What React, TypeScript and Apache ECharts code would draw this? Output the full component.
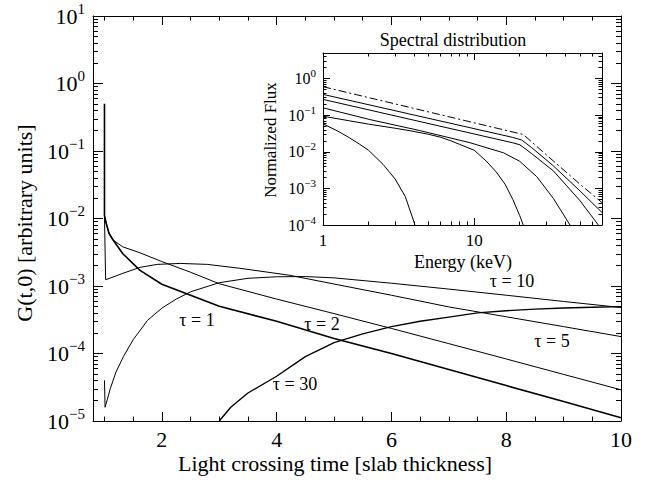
import React, { useEffect, useRef } from 'react';
import * as echarts from 'echarts';

const FONT = "'Liberation Serif', 'Times New Roman', 'DejaVu Serif', serif";

// ---------------- Main panel: G(t,0) vs light crossing time ----------------
const tau1Time = [1.0, 1.0, 1.03, 1.08, 1.15, 1.32, 1.62, 2.0, 2.5, 3.0, 4.0, 5.0, 6.0, 7.0, 8.0, 9.0, 10.0];
const tau1G = [0.5, 0.011, 0.0085, 0.006, 0.0048, 0.003, 0.0017, 0.00106, 7.3e-4, 5.0e-4, 3.0e-4, 1.67e-4, 1.0e-4, 5.8e-5, 3.35e-5, 1.94e-5, 1.12e-5];

const tau2Time = [1.0, 1.0, 1.03, 1.08, 1.15, 1.32, 1.62, 2.0, 2.5, 3.0, 4.0, 5.0, 6.0, 7.0, 8.0, 9.0, 10.0];
const tau2G = [0.135, 0.011, 0.0085, 0.006, 0.0048, 0.0038, 0.0031, 0.0023, 0.0016, 0.00108, 6.4e-4, 3.9e-4, 2.35e-4, 1.4e-4, 8.3e-5, 4.9e-5, 2.9e-5];

const tau5Time = [1.0, 1.02, 1.1, 1.32, 1.62, 1.92, 2.32, 2.79, 3.36, 4.23, 5.0, 6.0, 7.0, 8.0, 9.0, 10.0];
const tau5G = [0.0105, 0.00124, 0.00131, 0.00154, 0.00189, 0.00209, 0.00216, 0.00209, 0.00183, 0.00144, 0.00107, 7.3e-4, 4.9e-4, 3.5e-4, 2.5e-4, 1.78e-4];

const tau10Time = [1.0, 1.01, 1.05, 1.1, 1.2, 1.33, 1.5, 1.75, 2.0, 2.25, 2.5, 3.0, 3.5, 4.0, 4.5, 5.0, 6.0, 7.0, 8.0, 9.0, 10.0];
const tau10G = [4e-5, 1.6e-5, 2.1e-5, 3.0e-5, 5.3e-5, 9e-5, 1.6e-4, 3.1e-4, 4.7e-4, 6.4e-4, 8.2e-4, 1.12e-3, 1.3e-3, 1.37e-3, 1.38e-3, 1.32e-3, 1.1e-3, 9e-4, 7.3e-4, 5.9e-4, 4.8e-4];

const tau30Time = [3.0, 3.2, 3.5, 4.0, 4.5, 5.0, 5.5, 6.0, 6.5, 7.0, 7.5, 8.0, 8.5, 9.0, 9.5, 10.0];
const tau30G = [1.0e-5, 1.6e-5, 2.6e-5, 4.6e-5, 9e-5, 1.45e-4, 1.95e-4, 2.5e-4, 3.0e-4, 3.46e-4, 4.0e-4, 4.3e-4, 4.55e-4, 4.72e-4, 4.85e-4, 4.95e-4];

const tauLabels = ['\u03c4 = 1', '\u03c4 = 2', '\u03c4 = 5', '\u03c4 = 10', '\u03c4 = 30'];

// ---------------- Inset: spectral distribution ----------------
const incidentE = [1, 21.1, 33.4, 50.1, 70];
const incidentF = [0.6, 0.0297, 0.0056, 0.0013, 0.00041];

const spec1E = [1, 18, 20.6, 24, 33.4, 50.1, 70];
const spec1F = [0.37, 0.0247, 0.021, 0.013, 0.0041, 8.5e-4, 2.2e-4];

const spec2E = [1, 18, 20.1, 24, 33.4, 50.1, 66.2, 70];
const spec2F = [0.27, 0.0176, 0.0155, 0.0089, 0.003, 4.6e-4, 1e-4, 7.4e-5];

const spec3E = [1, 2.04, 4.37, 9.37, 15.6, 20, 25.9, 33.4, 43, 46];
const spec3F = [0.159, 0.076, 0.038, 0.0177, 0.0094, 0.0055, 0.0021, 5.3e-4, 1e-4, 5.5e-5];

const spec4E = [1, 1.5, 2, 3, 4, 5, 6, 7, 8, 10, 12, 14, 16, 18, 20, 21.1, 22];
const spec4F = [0.094, 0.07, 0.057, 0.044, 0.036, 0.03, 0.025, 0.02, 0.016, 0.011, 0.0056, 0.0028, 0.0013, 5e-4, 1.8e-4, 1e-4, 6.5e-5];

const spec5E = [1, 1.25, 1.5, 1.75, 2, 2.5, 3, 3.5, 4, 4.3];
const spec5F = [0.058, 0.037, 0.024, 0.016, 0.011, 0.0045, 0.0018, 6e-4, 1.2e-4, 4e-5];

// ---------------- Tick values ----------------
const mainXLabels = [2, 4, 6, 8, 10];
const mainYLabels = [1e-5, 1e-4, 1e-3, 1e-2, 1e-1, 1, 10];
const insetXLabels = [1, 10];
const insetYLabels = [1e-4, 1e-3, 1e-2, 1e-1, 1];

const MAIN_X = [0.8, 10];
const MAIN_Y = [1e-5, 10];
const INSET_X = [1, 70];
const INSET_Y = [1e-4, 5];

function nudge(vals: number[], lo: number, hi: number) {
  return vals
    .filter((v) => v >= lo * (1 - 1e-9) && v <= hi * (1 + 1e-9))
    .map((v) => Math.min(Math.max(v, lo * (1 + 1e-9)), hi * (1 - 1e-9)));
}

function logMinor(lo: number, hi: number) {
  const out: number[] = [];
  for (let k = Math.floor(Math.log10(lo)) - 1; k <= Math.ceil(Math.log10(hi)); k++) {
    for (let m = 2; m <= 9; m++) {
      const v = m * Math.pow(10, k);
      if (v > lo && v < hi) out.push(v);
    }
  }
  return out;
}

function linMinor(lo: number, hi: number, step: number, majors: number[]) {
  const out: number[] = [];
  for (let v = Math.ceil(lo / step) * step; v <= hi + 1e-9; v += step) {
    const r = Math.round(v * 1000) / 1000;
    if (!majors.some((m) => Math.abs(m - r) < 1e-6)) out.push(r);
  }
  return out;
}

function powLabel(v: number) {
  const e = Math.round(Math.log10(v));
  const es = e < 0 ? '\u2212' + -e : String(e);
  return '{b|10}{s|' + es + '}';
}

function zip(a: number[], b: number[]) {
  return a.map((x, i) => [x, b[i]]);
}

type AxSpec = {
  grid: number;
  type: 'value' | 'log';
  range: number[];
  position: string;
  ticks: number[];
  len: number;
  line: boolean;
  label?: any;
};

function axis(s: AxSpec) {
  const a: any = {
    gridIndex: s.grid,
    type: s.type,
    min: s.range[0],
    max: s.range[1],
    position: s.position,
    axisLine: { show: s.line, onZero: false, lineStyle: { color: '#000', width: 1 } },
    axisTick: {
      show: true,
      inside: true,
      length: s.len,
      customValues: nudge(s.ticks, s.range[0], s.range[1]),
      lineStyle: { color: '#000', width: 1 },
    },
    axisLabel: s.label
      ? { show: true, color: '#000', fontFamily: FONT, ...s.label, customValues: nudge(s.label.customValues, s.range[0], s.range[1]) }
      : { show: false },
    splitLine: { show: false },
    minorTick: { show: false },
    minorSplitLine: { show: false },
    silent: true,
  };
  if (s.type === 'log') a.logBase = 10;
  return a;
}

export default function App() {
  const ref = useRef<HTMLDivElement>(null);
  useEffect(() => {
    if (!ref.current) return;
    const chart = echarts.init(ref.current, undefined, { renderer: 'svg' });

    const mainXMinor = linMinor(1, 10, 0.5, mainXLabels);
    const mainYMinor = logMinor(MAIN_Y[0], MAIN_Y[1]);
    const insetXMinor = logMinor(INSET_X[0], INSET_X[1]);
    const insetYMinor = logMinor(INSET_Y[0], INSET_Y[1]);

    const mainXLabel = {
      customValues: mainXLabels,
      fontSize: 22,
      margin: 7,
      formatter: (v: number) => String(Math.round(v)),
    };
    const mainYLabel = {
      customValues: mainYLabels,
      margin: 8,
      formatter: (v: number) => powLabel(v),
      rich: {
        b: { fontSize: 22, fontFamily: FONT, color: '#000', lineHeight: 30, verticalAlign: 'middle' },
        s: { fontSize: 15, fontFamily: FONT, color: '#000', lineHeight: 14, verticalAlign: 'top' },
      },
    };
    const insetXLabel = {
      customValues: insetXLabels,
      fontSize: 17,
      margin: 7,
      formatter: (v: number) => String(Math.round(v)),
    };
    const insetYLabel = {
      customValues: insetYLabels,
      margin: 7,
      formatter: (v: number) => powLabel(v),
      rich: {
        b: { fontSize: 16, fontFamily: FONT, color: '#000', lineHeight: 22, verticalAlign: 'middle' },
        s: { fontSize: 11, fontFamily: FONT, color: '#000', lineHeight: 11, verticalAlign: 'top' },
      },
    };

    const xAxes = [
      axis({ grid: 0, type: 'value', range: MAIN_X, position: 'bottom', ticks: mainXLabels, len: 9, line: true, label: mainXLabel }),
      axis({ grid: 0, type: 'value', range: MAIN_X, position: 'bottom', ticks: mainXMinor, len: 4.5, line: false }),
      axis({ grid: 0, type: 'value', range: MAIN_X, position: 'top', ticks: mainXLabels, len: 9, line: true }),
      axis({ grid: 0, type: 'value', range: MAIN_X, position: 'top', ticks: mainXMinor, len: 4.5, line: false }),
      axis({ grid: 1, type: 'log', range: INSET_X, position: 'bottom', ticks: insetXLabels, len: 7, line: true, label: insetXLabel }),
      axis({ grid: 1, type: 'log', range: INSET_X, position: 'bottom', ticks: insetXMinor, len: 3.5, line: false }),
      axis({ grid: 1, type: 'log', range: INSET_X, position: 'top', ticks: insetXLabels, len: 7, line: true }),
      axis({ grid: 1, type: 'log', range: INSET_X, position: 'top', ticks: insetXMinor, len: 3.5, line: false }),
    ];
    const yAxes = [
      axis({ grid: 0, type: 'log', range: MAIN_Y, position: 'left', ticks: mainYLabels, len: 10, line: true, label: mainYLabel }),
      axis({ grid: 0, type: 'log', range: MAIN_Y, position: 'left', ticks: mainYMinor, len: 5, line: false }),
      axis({ grid: 0, type: 'log', range: MAIN_Y, position: 'right', ticks: mainYLabels, len: 10, line: true }),
      axis({ grid: 0, type: 'log', range: MAIN_Y, position: 'right', ticks: mainYMinor, len: 5, line: false }),
      axis({ grid: 1, type: 'log', range: INSET_Y, position: 'left', ticks: insetYLabels, len: 7, line: true, label: insetYLabel }),
      axis({ grid: 1, type: 'log', range: INSET_Y, position: 'left', ticks: insetYMinor, len: 3.5, line: false }),
      axis({ grid: 1, type: 'log', range: INSET_Y, position: 'right', ticks: insetYLabels, len: 7, line: true }),
      axis({ grid: 1, type: 'log', range: INSET_Y, position: 'right', ticks: insetYMinor, len: 3.5, line: false }),
    ];

    const line = (name: string, data: number[][], grid: number, width: number, type: any = 'solid') => ({
      name,
      type: 'line',
      xAxisIndex: grid === 0 ? 0 : 4,
      yAxisIndex: grid === 0 ? 0 : 4,
      data,
      symbol: 'none',
      showSymbol: false,
      clip: true,
      silent: true,
      lineStyle: { color: '#000', width, type },
      z: 3,
    });

    const series = [
      line('tau1', zip(tau1Time, tau1G), 0, 1.6),
      line('tau2', zip(tau2Time, tau2G), 0, 1),
      line('tau5', zip(tau5Time, tau5G), 0, 1),
      line('tau10', zip(tau10Time, tau10G), 0, 1),
      line('tau30', zip(tau30Time, tau30G), 0, 1.4),
      line('incident', zip(incidentE, incidentF), 1, 1, [8, 3, 2, 3]),
      line('spec1', zip(spec1E, spec1F), 1, 1),
      line('spec2', zip(spec2E, spec2F), 1, 1),
      line('spec3', zip(spec3E, spec3F), 1, 1),
      line('spec4', zip(spec4E, spec4F), 1, 1),
      line('spec5', zip(spec5E, spec5F), 1, 1),
    ];

    const txt = (text: string, x: number, y: number, size: number, rotation = 0) => ({
      type: 'text',
      x,
      y,
      rotation,
      silent: true,
      z: 10,
      style: {
        text,
        fill: '#000',
        fontSize: size,
        fontFamily: FONT,
        align: 'center',
        verticalAlign: 'middle',
        textAlign: 'center',
        textVerticalAlign: 'middle',
      },
    });

    const option: any = {
      animation: false,
      backgroundColor: '#fff',
      grid: [
        { left: 93, top: 16, width: 528, height: 405, containLabel: false, outerBoundsMode: 'none', show: false },
        { left: 323, top: 53, width: 279, height: 172, containLabel: false, outerBoundsMode: 'none', show: false },
      ],
      xAxis: xAxes,
      yAxis: yAxes,
      series,
      graphic: [
        txt('Light crossing time [slab thickness]', 335, 463, 22),
        txt('G(t,0) [arbitrary units]', 24, 223, 22, Math.PI / 2),
        txt('Spectral distribution', 453, 40, 18),
        txt('Normalized Flux', 270, 140, 17, Math.PI / 2),
        txt('Energy (keV)', 463, 262, 18),
        txt(tauLabels[0], 197, 320, 18),
        txt(tauLabels[1], 322, 324, 18),
        txt(tauLabels[2], 552, 341, 18),
        txt(tauLabels[3], 512, 281, 18),
        txt(tauLabels[4], 295, 384, 18),
      ],
    };

    chart.setOption(option);
    return () => chart.dispose();
  }, []);

  return (
    <div
      ref={ref}
      style={{ position: 'fixed', left: 0, top: 0, width: 653, height: 480, background: '#fff' }}
    />
  );
}
